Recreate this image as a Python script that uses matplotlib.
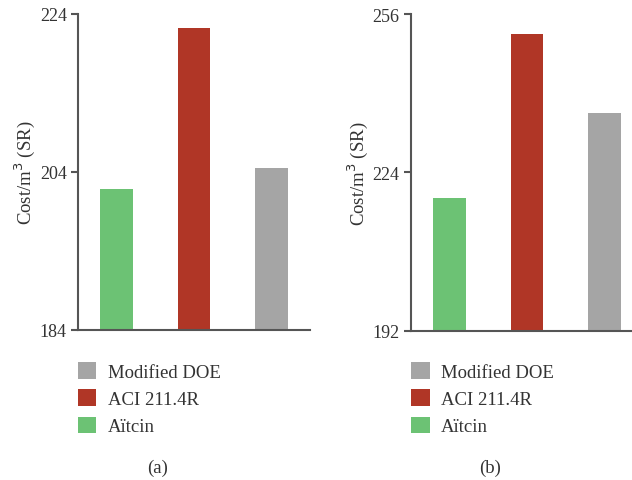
import matplotlib.pyplot as plt
from matplotlib.patches import Patch

plt.rcParams["font.family"] = ["Liberation Serif", "DejaVu Serif"]
plt.rcParams["font.size"] = 13

methods = ["Aïtcin", "ACI 211.4R", "Modified DOE"]
colors = ["#6CC274", "#B03626", "#A5A5A5"]

cost_a = [201.9, 222.2, 204.5]
cost_b = [218.9, 251.9, 236.0]

ticks_a = [184, 204, 224]
ticks_b = [192, 224, 256]

txt = "#333333"
spine = "#555555"

fig = plt.figure(figsize=(6.32, 4.81), dpi=100)
ax1 = fig.add_axes([0.1234, 0.3119, 0.367, 0.657])
ax2 = fig.add_axes([0.650, 0.3098, 0.352, 0.659])

panels = [(ax1, cost_a, ticks_a, 2.5, "(a)", 0.123, 0.25),
          (ax2, cost_b, ticks_b, 2.37, "(b)", 0.650, 0.775)]

for ax, vals, ticks, xmax, cap, lx, cx in panels:
    x = range(len(methods))
    ax.bar(x, [v - ticks[0] for v in vals], bottom=ticks[0],
           width=0.42, color=colors)
    ax.set_xlim(-0.5, xmax)
    ax.set_ylim(ticks[0], ticks[-1])
    ax.set_yticks(ticks)
    ax.set_xticks([])
    for s in ["top", "right"]:
        ax.spines[s].set_visible(False)
    for s in ["left", "bottom"]:
        ax.spines[s].set_color(spine)
        ax.spines[s].set_linewidth(1.5)
    ax.tick_params(axis="y", direction="out", length=5, width=1.5,
                   color=spine, labelcolor=txt, labelsize=13, pad=3)
    ax.set_ylabel("Cost/m$^3$ (SR)", color=txt, fontsize=13.5, labelpad=2)

    handles = [Patch(facecolor=c, edgecolor="none", label=m)
               for m, c in zip(methods, colors)][::-1]
    leg = fig.legend(handles=handles, loc="upper left",
                     bbox_to_anchor=(lx, 0.245), frameon=False,
                     fontsize=13.5, handlelength=1.0, handleheight=1.0,
                     labelspacing=0.45, handletextpad=0.6,
                     borderpad=0, borderaxespad=0)
    for t in leg.get_texts():
        t.set_color(txt)
    fig.text(cx, 1 - 468 / 481, cap, ha="center", va="center",
             color=txt, fontsize=13.5)

fig.savefig("out.png", dpi=100)
